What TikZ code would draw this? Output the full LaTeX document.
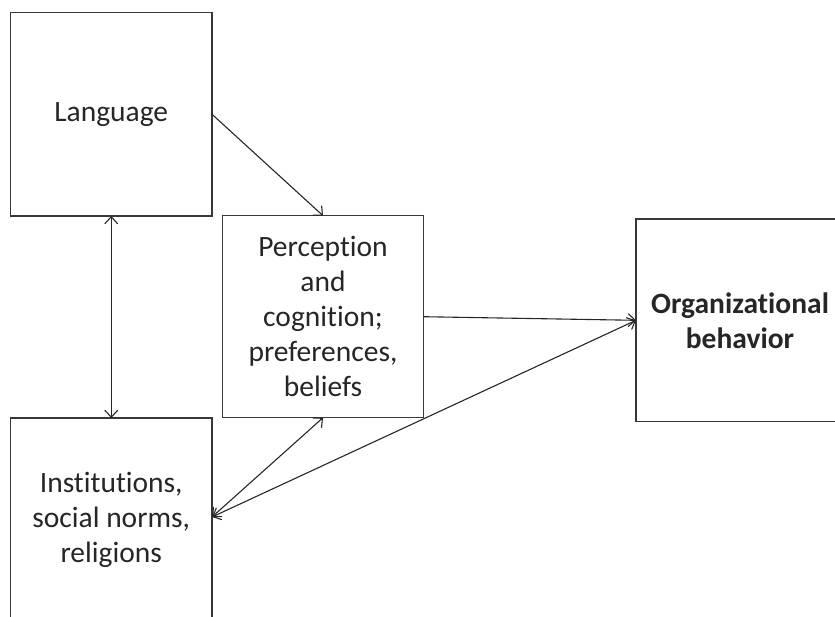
\documentclass[tikz,border=0pt]{standalone}
\usepackage{fontspec}
\setmainfont[Ligatures=NoCommon]{Carlito}
\usetikzlibrary{arrows.meta}
\begin{document}
\begin{tikzpicture}[x=1pt,y=-1pt,
  box/.style={draw=black!78, line width=1.2pt, rectangle, inner sep=0pt, outer sep=0pt, align=center,
    text=black!85, font=\fontsize{29.5}{35}\selectfont},
  conn/.style={draw=black!85, line width=1.1pt, arrows={Straight Barb[length=7pt,width=13pt,line width=1.1pt]-Straight Barb[length=7pt,width=13pt,line width=1.1pt]}},
  oneway/.style={draw=black!85, line width=1.1pt, -{Straight Barb[length=7pt,width=13pt,line width=1.1pt]}}]
\useasboundingbox (0,0) rectangle (835,616);
\node[box, minimum width=201.5pt, minimum height=203.5pt] (lang) at (111.25,114.25) {Language};
\node[box, minimum width=200.6pt, minimum height=202pt] (perc) at (323,316.7) {Perception\\and\\cognition;\\preferences,\\beliefs};
\node[box, minimum width=201.5pt, minimum height=203pt] (inst) at (111.25,519.5) {Institutions,\\social norms,\\religions};
\node[box, minimum width=208pt, minimum height=202.7pt, font=\fontsize{29.5}{35}\selectfont\bfseries] (org) at (740,320.3) {Organizational\\behavior};
\coordinate (inR) at ([yshift=2.5pt]inst.east);
\draw[conn] (lang.south) -- (inst.north);
\draw[oneway] (lang.east) -- (perc.north);
\draw[oneway] (perc.east) -- (org.west);
\draw[conn] (perc.south) -- (inR);
\draw[conn] (org.west) -- (inR);
\end{tikzpicture}
\end{document}
